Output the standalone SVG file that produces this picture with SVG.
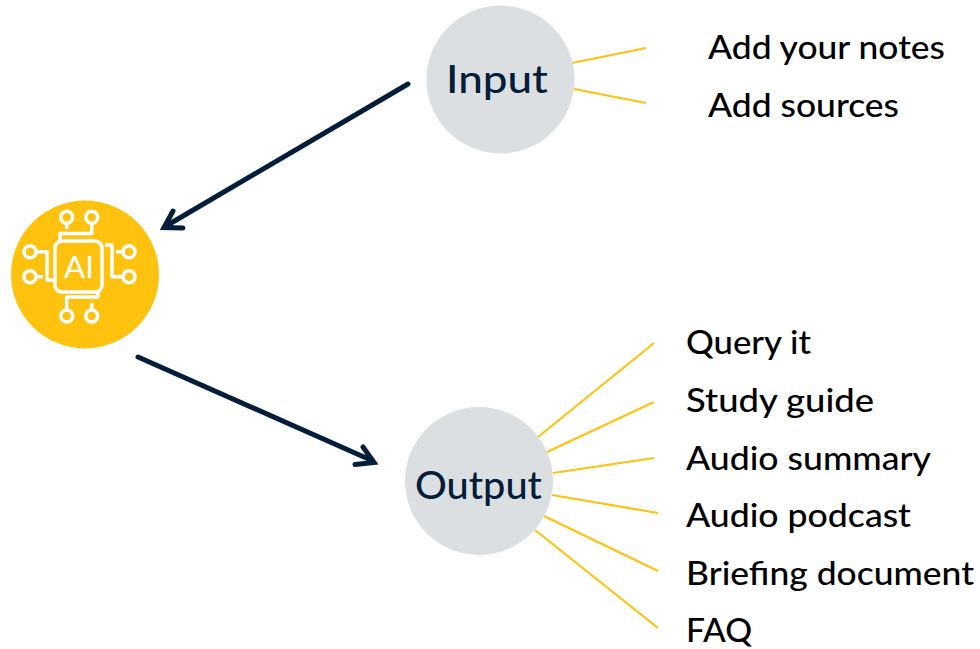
<svg xmlns="http://www.w3.org/2000/svg" width="980" height="649" viewBox="0 0 980 649">
<style>
.t{font-family:"Lato","Noto Sans",sans-serif;fill:#000;font-size:32px;font-weight:500}
.h{font-family:"Lato","Noto Sans",sans-serif;fill:#041e3a;font-size:38px;font-weight:500}
.y{stroke:#ffc20e;stroke-width:2.200;fill:none}
.a{stroke:#041e3a;stroke-width:5;fill:none;stroke-linecap:round;stroke-linejoin:miter}
.i{stroke:#fff;stroke-width:3.500;fill:none;stroke-linejoin:round}
</style>
<rect width="980" height="649" fill="#fff"/>
<g id="connectors">
<path class="y" d="M572 63L646 48M574 89L646 103M538 437L654 343M547 452L654 402M553 473L654 458M552 495L658 513M544 516L658 571M535 530L658 628"/>
<path class="a" d="M408 84L166 226M173 211L164 227.500L183 228M138 357L373 461M363 447L374 462.500L355 464.500"/>
</g>
<g id="input"><circle cx="500.500" cy="79.500" r="74" fill="#dcdfe2"/><text class="h" x="446" y="93" textLength="102" lengthAdjust="spacingAndGlyphs">Input</text></g>
<g id="output"><circle cx="479" cy="481" r="74" fill="#dcdfe2"/><text class="h" x="415" y="499" textLength="127" lengthAdjust="spacingAndGlyphs">Output</text></g>
<g id="ai">
<circle cx="85" cy="274.500" r="74" fill="#ffc20e"/>
<rect class="i" x="55" y="241" width="47" height="51" rx="7"/>
<circle class="i" cx="66.700" cy="217.300" r="6"/><circle class="i" cx="91.700" cy="217.300" r="6"/>
<circle class="i" cx="30" cy="251.700" r="6"/><circle class="i" cx="30" cy="276.700" r="6"/>
<circle class="i" cx="129" cy="251.700" r="6"/><circle class="i" cx="129" cy="276.700" r="6"/>
<circle class="i" cx="66.700" cy="316" r="6"/><circle class="i" cx="91.700" cy="316" r="6"/>
<path class="i" d="M66.700 223V229M91.700 223V233.500H60V240M36 251.700H47V280H54M36 276.700H43M123 251.700H116M123 276.700H112V245H105M98 292V297H66.700V310M91.700 303V310"/>
<text x="64" y="278" font-family="Lato,sans-serif" font-size="31" fill="#fff" textLength="30" lengthAdjust="spacingAndGlyphs">AI</text>
</g>
<g id="labels">
<text class="t" x="708" y="59" textLength="237" lengthAdjust="spacingAndGlyphs">Add your notes</text>
<text class="t" x="708" y="117" textLength="191" lengthAdjust="spacingAndGlyphs">Add sources</text>
<text class="t" x="686" y="354" textLength="125" lengthAdjust="spacingAndGlyphs">Query it</text>
<text class="t" x="686" y="412" textLength="188" lengthAdjust="spacingAndGlyphs">Study guide</text>
<text class="t" x="686" y="470" textLength="245" lengthAdjust="spacingAndGlyphs">Audio summary</text>
<text class="t" x="686" y="527" textLength="225" lengthAdjust="spacingAndGlyphs">Audio podcast</text>
<text class="t" x="686" y="585" textLength="288" lengthAdjust="spacingAndGlyphs">Briefing document</text>
<text class="t" x="686" y="642" textLength="66" lengthAdjust="spacingAndGlyphs">FAQ</text>
</g>
</svg>
